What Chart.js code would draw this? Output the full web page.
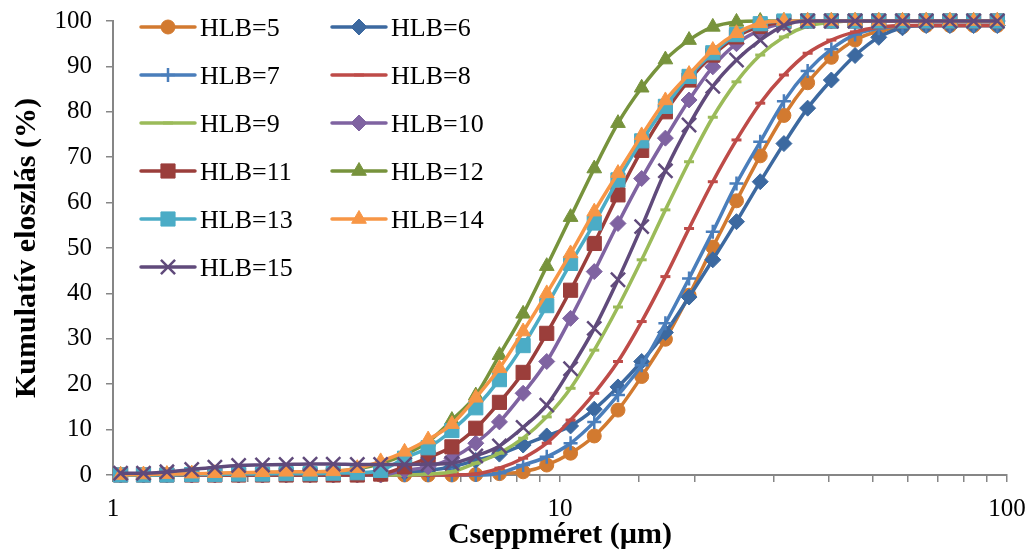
<!DOCTYPE html>
<html>
<head>
<meta charset="utf-8">
<script src="https://cdn.jsdelivr.net/npm/chart.js@4.4.1/dist/chart.umd.min.js"></script>
<style>
    html, body { margin: 0; padding: 0; background: #fff; }
</style>
</head>
<body>
<canvas id="graficoHLB" width="1032" height="554"></canvas>
<script>
// cseppméret osztályok (µm)
const meretek = [1.04, 1.17, 1.32, 1.50, 1.69, 1.91, 2.16, 2.44, 2.76, 3.11,
    3.52, 3.97, 4.49, 5.07, 5.73, 6.48, 7.32, 8.27, 9.34, 10.56,
    11.93, 13.48, 15.23, 17.21, 19.44, 21.97, 24.82, 28.05, 31.69, 35.81,
    40.46, 45.72, 51.66, 58.37, 65.95, 74.52, 84.20, 95.13];

// kumulatív eloszlás (%) HLB értékenként
const hlb5 = [0, 0, 0, 0, 0, 0, 0, 0, 0, 0, 0, 0, 0, 0, 0, 0.1, 0.3, 0.7, 2.2, 4.8,
    8.6, 14.3, 21.7, 29.9, 39.6, 50.2, 60.4, 70.3, 79.2, 86.4, 92.0, 95.8, 97.8, 98.7, 99.0, 99.0, 99.0, 99.0];
const hlb6 = [0, 0, 0, 0, 0, 0, 0, 0, 0, 0, 0.1, 0.3, 0.6, 1.0, 1.8, 3.2, 4.6, 6.6, 8.6, 10.8,
    14.5, 19.4, 25.0, 31.4, 39.2, 47.4, 55.8, 64.6, 73.0, 80.8, 87.0, 92.4, 96.4, 98.5, 99.0, 99.0, 99.0, 99.0];
const hlb7 = [0, 0, 0, 0, 0, 0, 0, 0, 0, 0, 0, 0, 0, 0, 0, 0, 0.4, 2.2, 4.0, 7.0,
    11.7, 17.6, 24.2, 33.4, 43.3, 53.6, 64.2, 73.4, 82.3, 89.0, 93.8, 97.0, 98.4, 98.9, 99.0, 99.0, 99.0, 99.0];
const hlb8 = [0, 0, 0, 0, 0, 0, 0, 0, 0, 0, 0, 0, 0, 0, 0, 0.2, 1.5, 3.7, 7.0, 12.1,
    18.0, 25.0, 33.8, 43.7, 54.3, 64.6, 73.8, 81.9, 88.1, 92.9, 95.8, 97.6, 98.6, 99.0, 99.0, 99.0, 99.0, 99.0];
const hlb9 = [0, 0, 0, 0, 0, 0, 0, 0, 0, 0, 0, 0, 0, 0.2, 0.7, 2.6, 4.8, 8.1, 12.8, 19.1,
    27.5, 37.0, 47.4, 58.4, 69.0, 78.8, 86.6, 92.5, 96.5, 98.9, 99.7, 100, 100, 100, 100, 100, 100, 100];
const hlb10 = [0, 0, 0, 0, 0, 0, 0, 0, 0, 0, 0, 0, 1.0, 1.8, 3.7, 7.0, 11.7, 18.0, 25.0, 34.5,
    44.8, 55.4, 65.3, 74.2, 82.6, 89.9, 95.0, 98.0, 99.5, 100, 100, 100, 100, 100, 100, 100, 100, 100];
const hlb11 = [0, 0, 0, 0, 0, 0, 0, 0, 0, 0, 0, 0.2, 1.8, 3.8, 6.2, 10.3, 16.0, 22.6, 31.2, 40.7,
    51.0, 61.7, 71.5, 80.0, 87.0, 92.5, 96.5, 98.8, 99.8, 100, 100, 100, 100, 100, 100, 100, 100, 100];
const hlb12 = [0, 0, 0.1, 0.2, 0.3, 0.4, 0.5, 0.6, 0.7, 0.8, 1.3, 2.5, 4.5, 7.3, 12.1, 17.5, 26.4, 35.5, 46.0, 56.8,
    67.5, 77.5, 85.3, 91.5, 95.8, 98.7, 99.8, 100, 100, 100, 100, 100, 100, 100, 100, 100, 100, 100];
const hlb13 = [0, 0, 0, 0.1, 0.1, 0.2, 0.2, 0.3, 0.3, 0.4, 0.5, 1.0, 3.7, 6.0, 9.8, 14.8, 21.0, 28.5, 37.3, 46.6,
    55.5, 65.0, 73.6, 81.2, 87.8, 93.0, 97.0, 99.4, 100, 100, 100, 100, 100, 100, 100, 100, 100, 100];
const hlb14 = [0, 0.1, 0.2, 0.3, 0.4, 0.5, 0.6, 0.7, 0.7, 0.8, 1.5, 3.0, 5.1, 7.8, 11.2, 17.0, 23.5, 31.6, 40.0, 48.8,
    58.0, 66.5, 74.8, 82.5, 88.3, 93.6, 97.3, 99.5, 100, 100, 100, 100, 100, 100, 100, 100, 100, 100];
const hlb15 = [0.4, 0.4, 0.7, 1.2, 1.7, 2.1, 2.2, 2.3, 2.4, 2.4, 2.3, 2.3, 2.3, 2.4, 2.6, 4.2, 6.4, 10.5, 15.4, 23.4,
    32.3, 43.0, 54.7, 67.0, 77.1, 85.6, 91.4, 95.8, 99.0, 100, 100, 100, 100, 100, 100, 100, 100, 100];

const betu = "'Liberation Serif', 'Times New Roman', serif";
const tengelySzin = "#868686";

function sorozat(label, ertekek, szin, jel, sugar, jelVastag) {
    return {
        label: label,
        data: meretek.map((m, i) => ({ x: m, y: ertekek[i] })),
        borderColor: szin,
        backgroundColor: szin,
        borderWidth: 3.5,
        pointStyle: jel,
        pointRadius: sugar,
        pointHoverRadius: sugar,
        pointBackgroundColor: szin,
        pointBorderColor: szin,
        pointBorderWidth: jelVastag,
        tension: 0.4,
        cubicInterpolationMode: "monotone",
        fill: false,
        clip: false
    };
}

const adatsorok = [
    sorozat("HLB=5", hlb5, "#D27A30", "circle", 7, 1),
    sorozat("HLB=6", hlb6, "#3C69A0", "rectRot", 8, 1),
    sorozat("HLB=7", hlb7, "#4A7EBB", "cross", 7, 2.5),
    sorozat("HLB=8", hlb8, "#BE4B48", "line", 5, 3),
    sorozat("HLB=9", hlb9, "#9BBB59", "line", 5, 3),
    sorozat("HLB=10", hlb10, "#7F63A1", "rectRot", 8, 1),
    sorozat("HLB=11", hlb11, "#9B3E3B", "rect", 10, 1),
    sorozat("HLB=12", hlb12, "#77933C", "triangle", 8.5, 1),
    sorozat("HLB=13", hlb13, "#4BACC6", "rect", 10, 1),
    sorozat("HLB=14", hlb14, "#F79646", "triangle", 8.5, 1),
    sorozat("HLB=15", hlb15, "#604A7B", "crossRot", 10, 2.5)
];
// a későbbi sorozat kerül felülre
adatsorok.forEach((ds, i) => { ds.order = adatsorok.length - i; });

// jelmagyarázat két oszlopban a rajzterületen belül
const jelmagyarazat = {
    id: "jelmagyarazat",
    afterDraw(chart) {
        const ctx = chart.ctx;
        ctx.save();
        chart.data.datasets.forEach((ds, i) => {
            const oszlop = i % 2;
            const sor = Math.floor(i / 2);
            const x0 = oszlop === 0 ? 141 : 332;
            const y = 27 + sor * 48;
            ctx.strokeStyle = ds.borderColor;
            ctx.fillStyle = ds.borderColor;
            ctx.lineWidth = 3.5;
            ctx.lineCap = "round";
            ctx.beginPath();
            ctx.moveTo(x0, y);
            ctx.lineTo(x0 + 54, y);
            ctx.stroke();
            ctx.lineCap = "butt";
            ctx.lineWidth = ds.pointBorderWidth;
            Chart.helpers.drawPoint(ctx, {
                pointStyle: ds.pointStyle,
                radius: ds.pointRadius,
                borderWidth: ds.pointBorderWidth,
                rotation: 0
            }, x0 + 27, y);
            ctx.fillStyle = "#000";
            ctx.font = "26px " + betu;
            ctx.textBaseline = "alphabetic";
            ctx.textAlign = "left";
            ctx.fillText(ds.label, x0 + 59, y + 9);
        });
        ctx.restore();
    }
};

const ctx = document.getElementById("graficoHLB").getContext("2d");
new Chart(ctx, {
    type: "line",
    data: { datasets: adatsorok },
    plugins: [jelmagyarazat],
    options: {
        responsive: false,
        animation: false,
        devicePixelRatio: 1,
        layout: { padding: { left: 0, right: 25, top: 21, bottom: 0 } },
        plugins: {
            legend: { display: false },
            tooltip: { enabled: false }
        },
        scales: {
            x: {
                type: "logarithmic",
                min: 1,
                max: 100,
                afterFit: (scale) => {
                    scale.height = 79;
                    scale.paddingLeft = 0;
                    scale.paddingRight = 0;
                },
                border: { display: true, color: tengelySzin, width: 2 },
                grid: { drawOnChartArea: false, drawTicks: true, tickLength: 7, color: tengelySzin, lineWidth: 1.5 },
                ticks: {
                    autoSkip: false,
                    maxRotation: 0,
                    padding: 12,
                    color: "#000",
                    font: { family: betu, size: 25 },
                    callback: (v) => {
                        const l = Math.log10(v);
                        return Math.abs(l - Math.round(l)) < 1e-9 ? String(v) : "";
                    }
                },
                title: {
                    display: true,
                    text: "Cseppméret (µm)",
                    color: "#000",
                    font: { family: betu, size: 30, weight: "bold" },
                    padding: { top: 0, bottom: 1 }
                }
            },
            y: {
                min: 0,
                max: 100,
                afterFit: (scale) => {
                    scale.width = 113;
                    scale.paddingTop = 12;
                    scale.paddingBottom = 12;
                },
                border: { display: true, color: tengelySzin, width: 2 },
                grid: { drawOnChartArea: false, drawTicks: true, tickLength: 7, color: tengelySzin, lineWidth: 1.5 },
                ticks: {
                    stepSize: 10,
                    padding: 14,
                    color: "#000",
                    font: { family: betu, size: 25 }
                },
                title: {
                    display: true,
                    text: "Kumulatív eloszlás (%)",
                    color: "#000",
                    font: { family: betu, size: 30, weight: "bold" },
                    padding: { top: 9, bottom: 0 }
                }
            }
        }
    }
});
</script>
</body>
</html>
